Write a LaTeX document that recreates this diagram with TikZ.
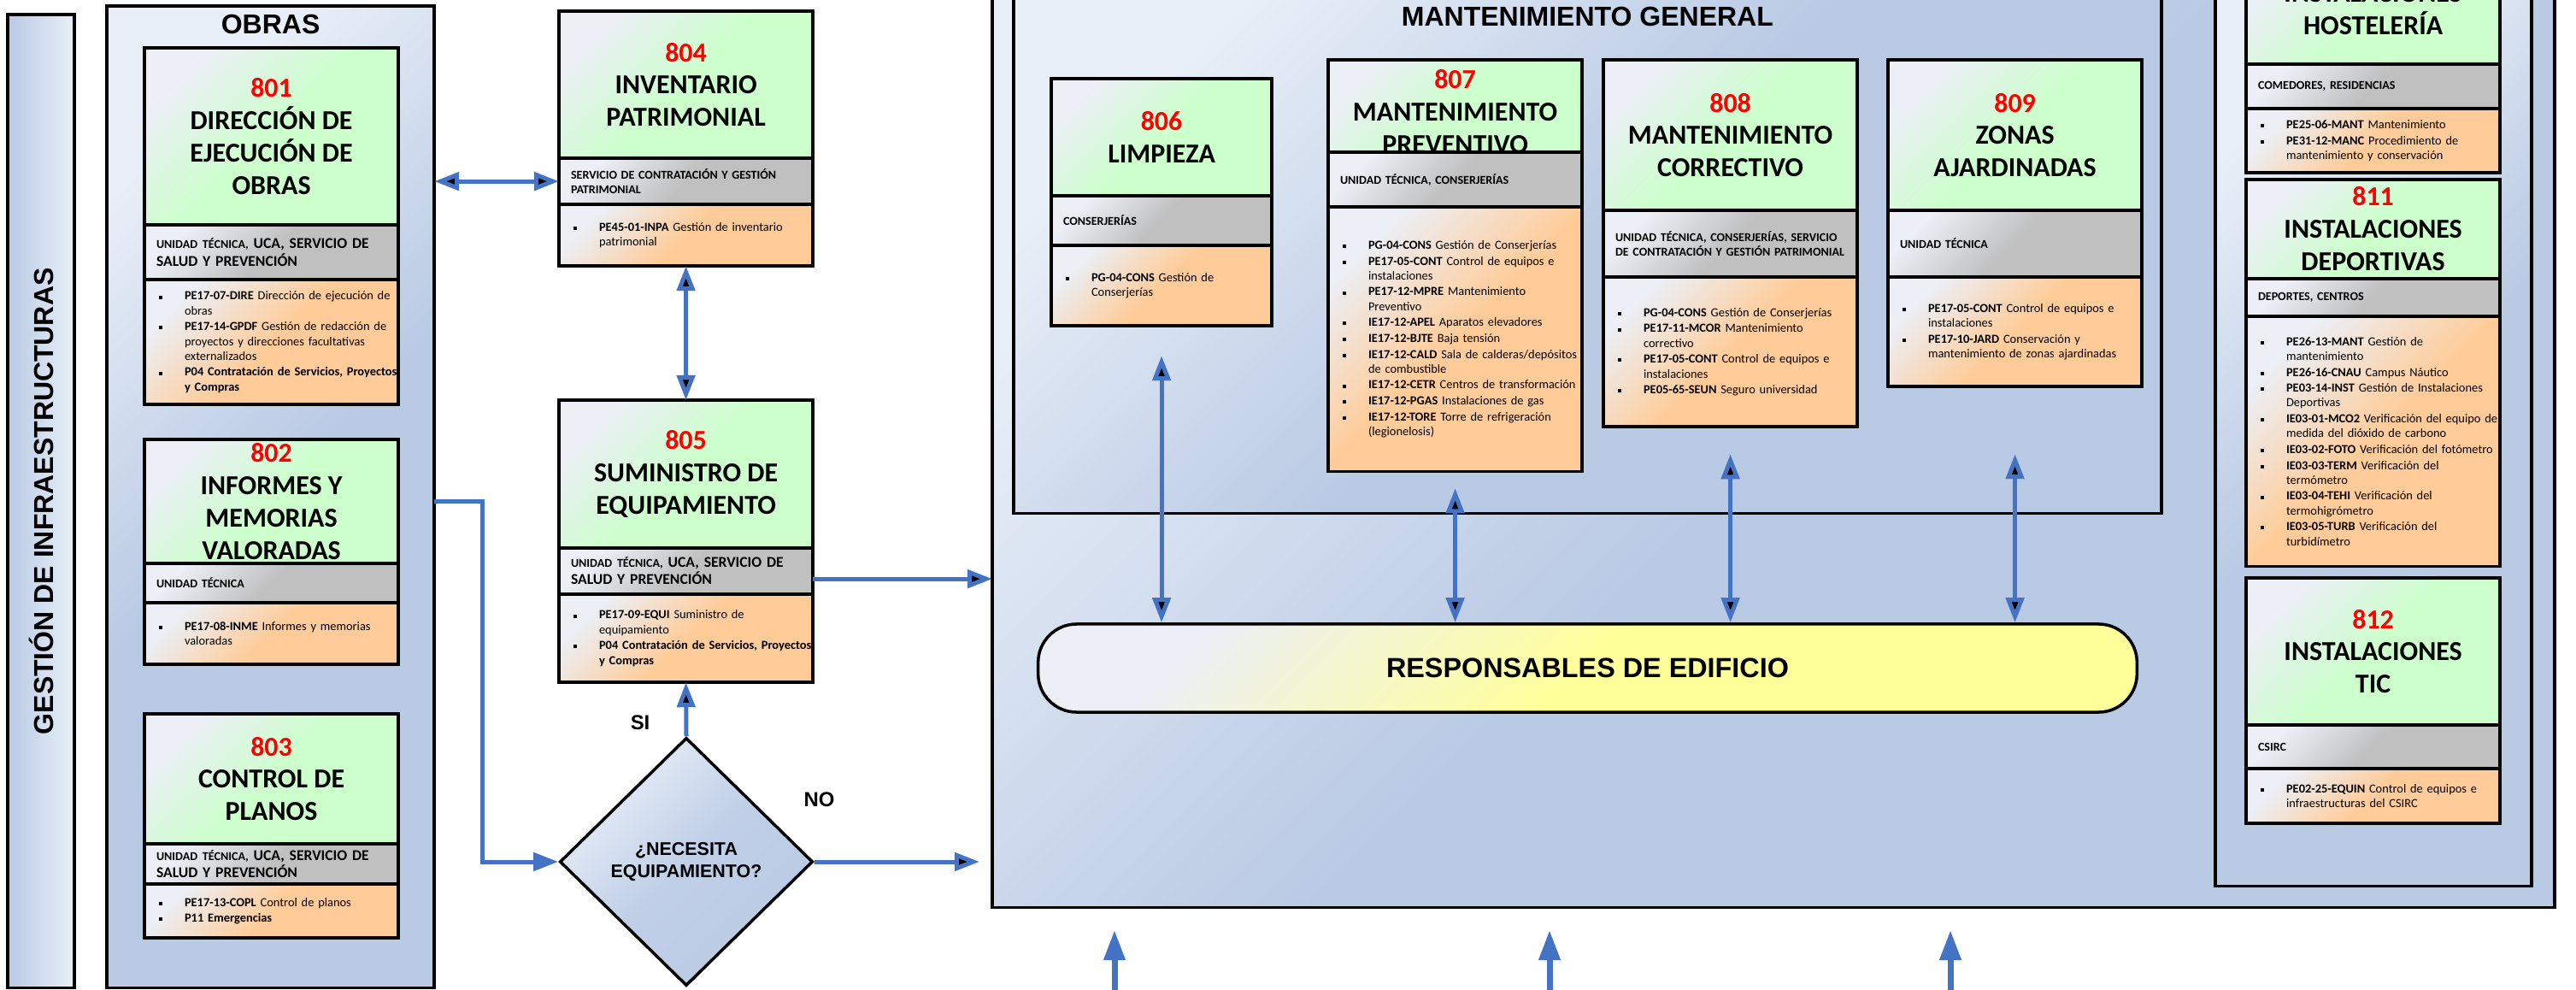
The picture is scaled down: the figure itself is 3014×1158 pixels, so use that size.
\documentclass[tikz,border=0pt]{standalone}
\usepackage{fontspec}
\setmainfont{Carlito}
\newfontfamily\arialfont{Liberation Sans}
\usepackage{graphicx}
\usetikzlibrary{calc,positioning,shapes.geometric,arrows.meta}

\definecolor{contblue}{RGB}{185,202,228}
\definecolor{contlight}{RGB}{233,239,248}
\definecolor{boxgreen}{RGB}{204,255,204}
\definecolor{boxgray}{RGB}{192,192,192}
\definecolor{boxorange}{RGB}{255,204,153}
\definecolor{boxlight}{RGB}{236,239,246}
\definecolor{respyellow}{RGB}{255,255,153}
\definecolor{flowblue}{RGB}{68,114,196}
\definecolor{numred}{RGB}{255,0,0}

\newcommand{\itm}[1]{\leftskip=0.09cm\rightskip=-0.3cm plus 1fil\hangindent=0.3cm\hangafter=1\makebox[0.3cm][l]{\rule[0.2ex]{0.04cm}{0.04cm}}#1\par}
\newcommand{\smallut}[1]{{\fontsize{4}{5.7}\selectfont #1}}

\begin{document}
\begin{tikzpicture}[x=0.01cm, y=-0.01cm,
    >={Triangle[length=0.29cm,width=0.21cm]},
    container/.style={draw, line width=1pt, outer sep=0pt, inner sep=0pt,
      top color=contlight, bottom color=contblue, middle color=contblue, shading angle=45},
    leftbar/.style={draw, line width=1pt, outer sep=0pt, inner sep=0pt,
      left color=contblue, right color=contlight,
      font=\arialfont\bfseries\fontsize{9.1}{11}\selectfont},
    conttitle/.style={inner sep=0pt, font=\arialfont\bfseries\fontsize{9.1}{11}\selectfont},
    ptitle/.style={draw, line width=1pt, outer sep=0pt, inner sep=0pt,
      minimum width=2.97cm, align=center,
      font=\bfseries\fontsize{9.1}{10.8}\selectfont,
      top color=boxlight, bottom color=boxgreen, middle color=boxgreen, shading angle=45},
    punit/.style={draw, line width=1pt, outer sep=0pt, inner xsep=0.08cm, inner ysep=0pt,
      minimum width=2.97cm, text width=2.81cm, align=left,
      font=\bfseries\fontsize{4}{4.9}\selectfont,
      execute at begin node={\leftskip=0.06cm\rightskip=-0.3cm plus 1fil},
      top color=boxlight, bottom color=boxgray, middle color=boxgray, shading angle=45},
    punitb/.style={punit, font=\bfseries\fontsize{5}{5.7}\selectfont},
    plist/.style={draw, line width=1pt, outer sep=0pt, inner xsep=0.08cm, inner ysep=0pt,
      minimum width=2.97cm, text width=2.81cm, align=left,
      font=\fontsize{4.1}{4.9}\selectfont,
      execute at begin node={\parskip=0.4pt},
      top color=boxlight, bottom color=boxorange, middle color=boxorange, shading angle=45},
    decision/.style={diamond, draw, line width=1pt, inner sep=0pt,
      minimum width=2.96cm, minimum height=2.90cm, align=center,
      top color=contlight, bottom color=contblue, middle color=contblue!85!contlight, shading angle=45,
      font=\arialfont\bfseries\fontsize{6.1}{7.4}\selectfont},
    resp/.style={draw, line width=1pt, rounded corners=0.45cm,
      minimum width=12.85cm, minimum height=1.03cm,
      top color=boxlight, bottom color=respyellow, middle color=respyellow, shading angle=45,
      font=\arialfont\bfseries\fontsize{9.2}{11}\selectfont},
    lbl/.style={inner sep=0pt, font=\arialfont\bfseries\fontsize{6.8}{8}\selectfont},
    flow/.style={draw=flowblue, line width=0.05cm},
    flowin/.style={draw=flowblue, line width=0.07cm, -{Triangle[length=0.35cm,width=0.24cm]}}
  ]
    \useasboundingbox (0,0) rectangle (3014,1158);
    \clip (0,0) rectangle (3014,1158);

    \node[leftbar, minimum width=0.78cm, minimum height=11.38cm, anchor=north west] (gestion) at (9,17)
      {\rotatebox{90}{GESTIÓN DE INFRAESTRUCTURAS}};
    \node[container, minimum width=3.83cm, minimum height=11.48cm, anchor=north west] (obras) at (125,7) {};
    \node[conttitle] (obrastitle) at ([yshift=-0.21cm]obras.north) {OBRAS};
    \node[container, minimum width=18.27cm, minimum height=10.81cm, anchor=north west] (mant) at (1161,-20) {};
    \node[container, minimum width=13.42cm, minimum height=6.20cm, anchor=north west] (mgen) at (1186,-20) {};
    \node[conttitle] (mgentitle) at ([yshift=-0.39cm]mgen.north) {MANTENIMIENTO GENERAL};
    \node[container, minimum width=3.70cm, minimum height=10.56cm, anchor=north west] (rcol) at (2592,-20) {};

    \node[ptitle, minimum height=2.07cm, anchor=north west] (t801) at (169,56)
      {{\color{numred}801}\\DIRECCIÓN DE\\EJECUCIÓN DE\\OBRAS};
    \node[punitb, minimum height=0.64cm, below=0pt of t801] (u801)
      {\smallut{UNIDAD TÉCNICA,} UCA, SERVICIO DE\\SALUD Y PREVENCIÓN};
    \node[plist, minimum height=1.46cm, below=0pt of u801] (l801)
      {\itm{\textbf{PE17-07-DIRE} Dirección de ejecución de\newline obras}
       \itm{\textbf{PE17-14-GPDF} Gestión de redacción de\newline proyectos y direcciones facultativas\newline externalizados}
       \itm{\textbf{P04 Contratación de Servicios, Proyectos\newline y Compras}}};

    \node[ptitle, minimum height=1.45cm, anchor=north west] (t802) at (169,514)
      {{\color{numred}802}\\INFORMES Y\\MEMORIAS\\VALORADAS};
    \node[punit, minimum height=0.46cm, below=0pt of t802] (u802) {UNIDAD TÉCNICA};
    \node[plist, minimum height=0.72cm, below=0pt of u802] (l802)
      {\itm{\textbf{PE17-08-INME} Informes y memorias\newline valoradas}};

    \node[ptitle, minimum height=1.52cm, anchor=north west] (t803) at (169,835)
      {{\color{numred}803}\\CONTROL DE\\PLANOS};
    \node[punitb, minimum height=0.47cm, below=0pt of t803] (u803)
      {\smallut{UNIDAD TÉCNICA,} UCA, SERVICIO DE\\SALUD Y PREVENCIÓN};
    \node[plist, minimum height=0.63cm, below=0pt of u803] (l803)
      {\itm{\textbf{PE17-13-COPL} Control de planos}
       \itm{\textbf{P11 Emergencias}}};

    \node[ptitle, minimum height=1.72cm, anchor=north west] (t804) at (654,13)
      {{\color{numred}804}\\INVENTARIO\\PATRIMONIAL};
    \node[punit, minimum height=0.54cm, below=0pt of t804] (u804)
      {SERVICIO DE CONTRATACIÓN Y GESTIÓN\\PATRIMONIAL};
    \node[plist, minimum height=0.72cm, below=0pt of u804] (l804)
      {\itm{\textbf{PE45-01-INPA} Gestión de inventario\newline patrimonial}};

    \node[ptitle, minimum height=1.73cm, anchor=north west] (t805) at (654,468)
      {{\color{numred}805}\\SUMINISTRO DE\\EQUIPAMIENTO};
    \node[punitb, minimum height=0.54cm, below=0pt of t805] (u805)
      {\smallut{UNIDAD TÉCNICA,} UCA, SERVICIO DE\\SALUD Y PREVENCIÓN};
    \node[plist, minimum height=1.03cm, below=0pt of u805] (l805)
      {\itm{\textbf{PE17-09-EQUI} Suministro de\newline equipamiento}
       \itm{\textbf{P04 Contratación de Servicios, Proyectos\newline y Compras}}};

    \node[ptitle, minimum width=2.58cm, minimum height=1.37cm, anchor=north west] (t806) at (1230,92)
      {{\color{numred}806}\\LIMPIEZA};
    \node[punit, minimum width=2.58cm, text width=2.42cm, minimum height=0.58cm, below=0pt of t806] (u806)
      {CONSERJERÍAS};
    \node[plist, minimum width=2.58cm, text width=2.42cm, minimum height=0.94cm, below=0pt of u806] (l806)
      {\itm{\textbf{PG-04-CONS} Gestión de\newline Conserjerías}};

    \node[ptitle, minimum height=1.08cm, anchor=north west] (t807) at (1554,70) {};
    \node[inner sep=0pt, align=center, font=\bfseries\fontsize{9.1}{10.8}\selectfont, anchor=north] (t807txt)
      at ([yshift=-0.11cm]t807.north) {{\color{numred}807}\\MANTENIMIENTO\\PREVENTIVO};
    \node[punit, minimum height=0.64cm, below=0pt of t807] (u807) {UNIDAD TÉCNICA, CONSERJERÍAS};
    \node[plist, minimum height=3.09cm, below=0pt of u807] (l807)
      {\itm{\textbf{PG-04-CONS} Gestión de Conserjerías}
       \itm{\textbf{PE17-05-CONT} Control de equipos e\newline instalaciones}
       \itm{\textbf{PE17-12-MPRE} Mantenimiento\newline Preventivo}
       \itm{\textbf{IE17-12-APEL} Aparatos elevadores}
       \itm{\textbf{IE17-12-BJTE} Baja tensión}
       \itm{\textbf{IE17-12-CALD} Sala de calderas/depósitos\newline de combustible}
       \itm{\textbf{IE17-12-CETR} Centros de transformación}
       \itm{\textbf{IE17-12-PGAS} Instalaciones de gas}
       \itm{\textbf{IE17-12-TORE} Torre de refrigeración\newline (legionelosis)}};

    \node[ptitle, minimum height=1.76cm, anchor=north west] (t808) at (1876,70)
      {{\color{numred}808}\\MANTENIMIENTO\\CORRECTIVO};
    \node[punit, minimum height=0.78cm, below=0pt of t808] (u808)
      {UNIDAD TÉCNICA, CONSERJERÍAS, SERVICIO\\DE CONTRATACIÓN Y GESTIÓN PATRIMONIAL};
    \node[plist, minimum height=1.75cm, below=0pt of u808] (l808)
      {\itm{\textbf{PG-04-CONS} Gestión de Conserjerías}
       \itm{\textbf{PE17-11-MCOR} Mantenimiento\newline correctivo}
       \itm{\textbf{PE17-05-CONT} Control de equipos e\newline instalaciones}
       \itm{\textbf{PE05-65-SEUN} Seguro universidad}};

    \node[ptitle, minimum height=1.76cm, anchor=north west] (t809) at (2209,70)
      {{\color{numred}809}\\ZONAS\\AJARDINADAS};
    \node[punit, minimum height=0.78cm, below=0pt of t809] (u809) {UNIDAD TÉCNICA};
    \node[plist, minimum height=1.28cm, below=0pt of u809] (l809)
      {\itm{\textbf{PE17-05-CONT} Control de equipos e\newline instalaciones}
       \itm{\textbf{PE17-10-JARD} Conservación y\newline mantenimiento de zonas ajardinadas}};

    \node[ptitle, minimum height=1.28cm, anchor=north west] (t810) at (2628,-53)
      {INSTALACIONES\\HOSTELERÍA};
    \node[punit, minimum height=0.52cm, below=0pt of t810] (u810) {COMEDORES, RESIDENCIAS};
    \node[plist, minimum height=0.75cm, below=0pt of u810] (l810)
      {\itm{\textbf{PE25-06-MANT} Mantenimiento}
       \itm{\textbf{PE31-12-MANC} Procedimiento de\newline mantenimiento y conservación}};

    \node[ptitle, minimum height=1.16cm, anchor=north west] (t811) at (2628,210)
      {{\color{numred}811}\\INSTALACIONES\\DEPORTIVAS};
    \node[punit, minimum height=0.44cm, below=0pt of t811] (u811) {DEPORTES, CENTROS};
    \node[plist, minimum height=2.92cm, below=0pt of u811] (l811)
      {\itm{\textbf{PE26-13-MANT} Gestión de\newline mantenimiento}
       \itm{\textbf{PE26-16-CNAU} Campus Náutico}
       \itm{\textbf{PE03-14-INST} Gestión de Instalaciones\newline Deportivas}
       \itm{\textbf{IE03-01-MCO2} Verificación del equipo de\newline medida del dióxido de carbono}
       \itm{\textbf{IE03-02-FOTO} Verificación del fotómetro}
       \itm{\textbf{IE03-03-TERM} Verificación del\newline termómetro}
       \itm{\textbf{IE03-04-TEHI} Verificación del\newline termohigrómetro}
       \itm{\textbf{IE03-05-TURB} Verificación del\newline turbidímetro}};

    \node[ptitle, minimum height=1.72cm, anchor=north west] (t812) at (2628,676)
      {{\color{numred}812}\\INSTALACIONES\\TIC};
    \node[punit, minimum height=0.51cm, below=0pt of t812] (u812) {CSIRC};
    \node[plist, minimum height=0.64cm, below=0pt of u812] (l812)
      {\itm{\textbf{PE02-25-EQUIN} Control de equipos e\newline infraestructuras del CSIRC}};

    \node[resp] (resp) at (1857.5,781.5) {RESPONSABLES DE EDIFICIO};
    \node[decision] (dec) at (803,1008) {¿NECESITA\\EQUIPAMIENTO?};

    \coordinate (e805) at ($(u805.east)+(0,9)$);
    \coordinate (noend) at ($(dec.east -| mant.west)-(15,0)$);
    \path[flow] (obras.east |- u804.west) edge[<->] (u804.west)
          (l804.south)                    edge[<->] (t805.north)
          (dec.north)                     edge[->] node[lbl, pos=0.25, left=0.4cm] (si) {SI} (l805.south)
          (dec.east)                      edge[->] node[lbl, pos=0.03, above=0.62cm] (no) {NO} (noend)
          (e805)                          edge[->] (e805 -| mant.west)
          ($(l806.south)+(0,35)$)         edge[<->] (l806.south |- resp.north)
          ($(l807.south)+(0,20)$)         edge[<->] (l807.south |- resp.north)
          ($(l808.south)+(0,32)$)         edge[<->] (l808.south |- resp.north)
          ($(l809.south)+(0,79)$)         edge[<->] (l809.south |- resp.north);
    \draw[flow, ->] (obras.east |- t802.east) -- ++(56,0) |- (dec.west);

    \foreach \x [count=\i] in {1304,1813,2282} {
      \coordinate (in\i) at (\x,1158);
      \coordinate (in\i top) at (\x,1088);
      \draw[flowin] (in\i) -- (in\i top);
    }
\end{tikzpicture}
\end{document}
